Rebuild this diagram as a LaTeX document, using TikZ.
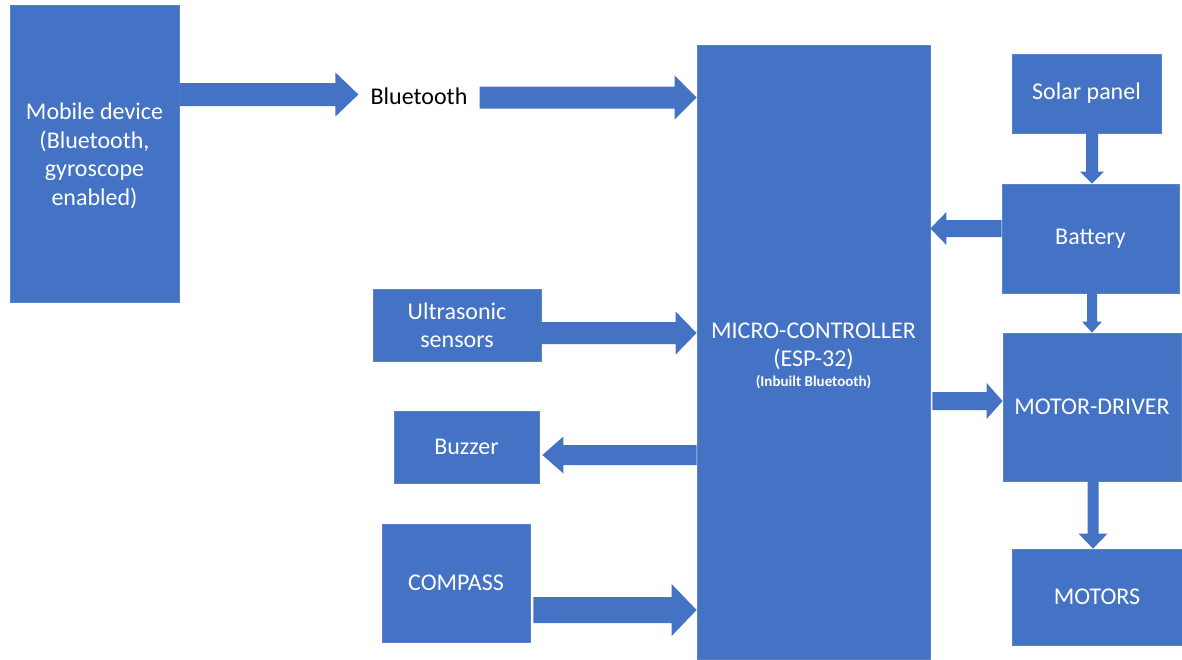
\documentclass[tikz,border=0pt]{standalone}
\usepackage{fontspec}
\setmainfont{Carlito}
\usetikzlibrary{calc}
\definecolor{boxblue}{HTML}{4472C4}
\definecolor{boxedge}{HTML}{5A82CA}
% #1 from, #2 to, #3 shaft half width, #4 head half width, #5 head length
\newcommand\blockarrow[5]{%
  \fill[arrowfill] ($(#1)!#3!90:(#2)$) -- ($(#2)!#5!(#1)!#3!90:(#2)$) -- ($(#2)!#5!(#1)!#4!90:(#2)$) -- (#2)
    -- ($(#2)!#5!(#1)!#4!-90:(#2)$) -- ($(#2)!#5!(#1)!#3!-90:(#2)$) -- ($(#1)!#3!-90:(#2)$) -- cycle;}
\begin{document}
\begin{tikzpicture}[x=1pt,y=-1pt,
  box/.style={fill=boxblue, draw=boxedge, line width=0.8pt, text=white, inner sep=0pt, align=center,
    font=\fontsize{24}{28.5}\selectfont},
  arrowfill/.style={fill=boxblue}]
\useasboundingbox (0,0) rectangle (1182,659);
\fill[white] (0,0) rectangle (1182,659);
% boxes
\node[box, minimum width=169pt, minimum height=297pt] (mobile) at (94.5,153.5) {};
\node[text=white, inner sep=0pt, align=center, font=\fontsize{24}{28.5}\selectfont] (mobtext) at (94.5,156)
  {Mobile device\\(Bluetooth,\\gyroscope\\enabled)};
\node[inner sep=0pt, anchor=base, font=\fontsize{24}{28.5}\selectfont] (bt) at (419,104) {Bluetooth};
\node[box, minimum width=233pt, minimum height=614pt] (mc) at (813.5,352) {};
\node[text=white, inner sep=0pt, align=center, font=\fontsize{24}{28.5}\selectfont] (mctext) at (813.5,356)
  {MICRO-CONTROLLER\\(ESP-32)\\[-8.5pt]{\fontsize{15}{17}\selectfont\bfseries (Inbuilt Bluetooth)}};
\node[box, minimum width=149pt, minimum height=79pt] (solar) at (1086.5,93.5) {Solar panel};
\node[box, minimum width=177pt, minimum height=109pt] (battery) at (1090.5,238.5) {Battery};
\node[box, minimum width=178pt, minimum height=148pt] (md) at (1092,407) {MOTOR-DRIVER};
\node[box, minimum width=170pt, minimum height=96pt] (motors) at (1097,597) {MOTORS};
\node[box, minimum width=168pt, minimum height=72pt] (us) at (457,325) {Ultrasonic\\sensors};
\node[box, minimum width=145pt, minimum height=72pt] (buzzer) at (466.5,447) {Buzzer};
\node[box, minimum width=148pt, minimum height=118pt] (compass) at (456,583) {COMPASS};
% arrow end points
\coordinate (a1s) at (mobile.east |- 0,94.5);
\coordinate (a1e) at ($(bt.west |- 0,94.5)+(-12,0)$);
\coordinate (a2s) at ($(bt.east |- 0,97.5)+(12,0)$);
\coordinate (a2e) at (mc.west |- 0,97.5);
\coordinate (a3s) at (us.east |- 0,333);
\coordinate (a3e) at (mc.west |- 0,333);
\coordinate (a4s) at (mc.west |- 0,455);
\coordinate (a4e) at ($(buzzer.east |- 0,455)+(3,0)$);
\coordinate (a5s) at ($(compass.east |- 0,610)+(3,0)$);
\coordinate (a5e) at (mc.west |- 0,610);
\coordinate (a6s) at ($(mc.east |- 0,401)+(2,0)$);
\coordinate (a6e) at (md.west |- 0,401);
\coordinate (a7s) at (solar.south -| 1092,0);
\coordinate (a7e) at (battery.north -| 1092,0);
\coordinate (a8s) at (battery.west |- 0,228.5);
\coordinate (a8e) at (mc.east |- 0,228.5);
\coordinate (a9s) at (battery.south -| 1092,0);
\coordinate (a9e) at (md.north -| 1092,0);
\coordinate (a10s) at (md.south -| 1093,0);
\coordinate (a10e) at (motors.north -| 1093,0);
% block arrows
\blockarrow{a1s}{a1e}{11.5pt}{22pt}{23pt}
\blockarrow{a2s}{a2e}{11pt}{22pt}{22pt}
\blockarrow{a3s}{a3e}{11pt}{21.5pt}{21pt}
\blockarrow{a4s}{a4e}{10pt}{18.5pt}{21pt}
\blockarrow{a5s}{a5e}{13pt}{26pt}{25pt}
\blockarrow{a6s}{a6e}{9pt}{18pt}{16pt}
\blockarrow{a7s}{a7e}{6pt}{12pt}{12pt}
\blockarrow{a8s}{a8e}{8.5pt}{16.5pt}{16pt}
\blockarrow{a9s}{a9e}{5pt}{10pt}{11pt}
\blockarrow{a10s}{a10e}{5.5pt}{14.5pt}{15pt}
\end{tikzpicture}
\end{document}
